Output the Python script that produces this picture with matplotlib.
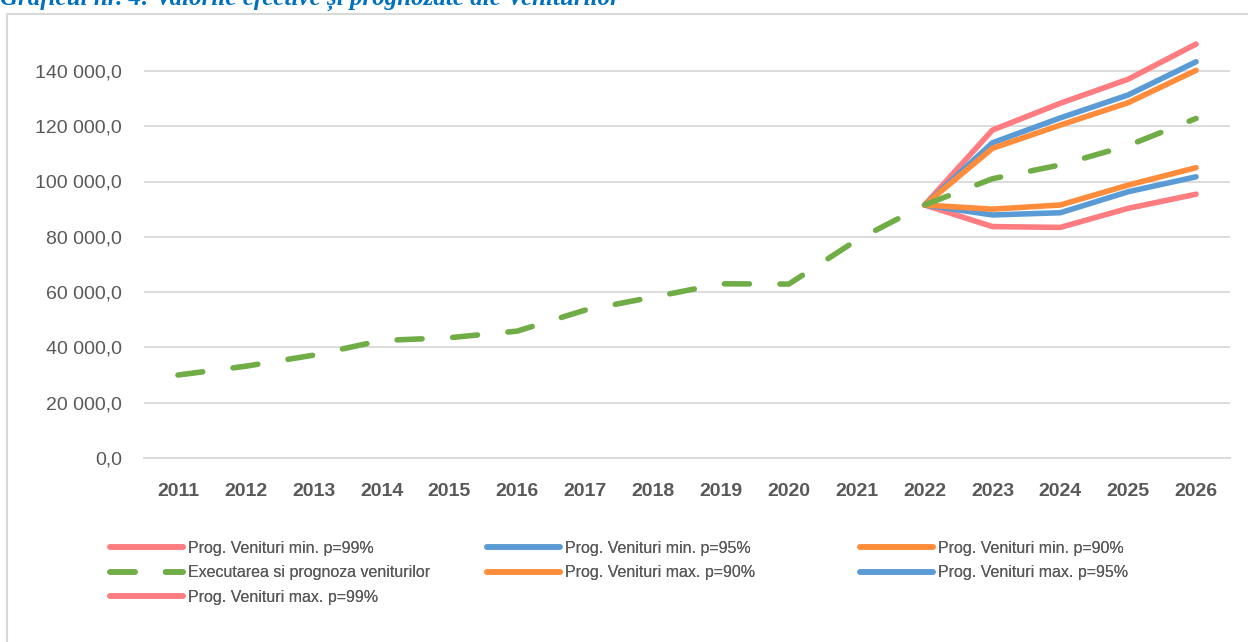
import numpy as np
import matplotlib.pyplot as plt
from matplotlib.patches import Rectangle

# data
years = ['2011', '2012', '2013', '2014', '2015', '2016', '2017', '2018',
         '2019', '2020', '2021', '2022', '2023', '2024', '2025', '2026']
executie = [30000, 33200, 37200, 42500, 43500, 45900, 53500, 58200,
            63000, 62900, 78800, 91500, 101000, 106000, 113000, 122800]

prog_years = ['2022', '2023', '2024', '2025', '2026']
min99 = [91500, 83700, 83400, 90300, 95400]
min95 = [91500, 87900, 88700, 96300, 101700]
min90 = [91500, 90000, 91500, 98700, 105000]
max90 = [91500, 112000, 120400, 128500, 140200]
max95 = [91500, 114000, 123000, 131300, 143300]
max99 = [91500, 118600, 128300, 137000, 149700]

yticks = [0, 20000, 40000, 60000, 80000, 100000, 120000, 140000]

c_pink = '#FF7C80'
c_blue = '#5B9BD5'
c_orange = '#FF8C3A'
c_green = '#70AD47'

plt.rcParams['font.family'] = ['Liberation Sans', 'DejaVu Sans']

fig = plt.figure(figsize=(12.48, 6.42), dpi=100)
ax = fig.add_axes([144/1248, 1 - 458/642, (1230-144)/1248, (458-15.6)/642])

x = np.arange(len(years))
xp = np.array([years.index(y) for y in prog_years])
lw = 4

l_min99, = ax.plot(xp, min99, color=c_pink, lw=lw, solid_capstyle='round', label='Prog. Venituri min. p=99%')
l_min95, = ax.plot(xp, min95, color=c_blue, lw=lw, solid_capstyle='round', label='Prog. Venituri min. p=95%')
l_min90, = ax.plot(xp, min90, color=c_orange, lw=lw, solid_capstyle='round', label='Prog. Venituri min. p=90%')
l_max99, = ax.plot(xp, max99, color=c_pink, lw=lw, solid_capstyle='round', label='Prog. Venituri max. p=99%')
l_max95, = ax.plot(xp, max95, color=c_blue, lw=lw, solid_capstyle='round', label='Prog. Venituri max. p=95%')
l_max90, = ax.plot(xp, max90, color=c_orange, lw=lw, solid_capstyle='round', label='Prog. Venituri max. p=90%')
l_exec, = ax.plot(x, executie, color=c_green, lw=lw, dashes=(4.5, 5.5), dash_capstyle='round',
                  label='Executarea si prognoza veniturilor')

ax.set_xlim(-0.5, len(years) - 0.5)
ax.set_ylim(0, 160000)
ax.set_yticks(yticks)
ax.set_yticklabels([f'{v:,.1f}'.replace(',', ' ').replace('.', ',') for v in yticks])
ax.set_xticks(x)
ax.set_xticklabels(years, fontweight='bold')
ax.tick_params(axis='y', length=0, labelsize=14, labelcolor='#595959', pad=16)
ax.tick_params(axis='x', length=0, labelsize=14, labelcolor='#595959', pad=18)
ax.grid(axis='y', color='#D9D9D9', lw=1.3)
ax.set_axisbelow(True)
for s in ['top', 'right', 'left']:
    ax.spines[s].set_visible(False)
ax.spines['bottom'].set_color('#D9D9D9')
ax.spines['bottom'].set_linewidth(1.3)

# legend, three columns laid out like the original
cols = [[l_min99, l_exec, l_max99], [l_min95, l_max90], [l_min90, l_max95]]
col_x = [110/1248, 487/1248, 860/1248]
for lines, cx in zip(cols, col_x):
    leg = fig.legend(handles=lines, loc='upper left', bbox_to_anchor=(cx, 1 - 541/642),
                     frameon=False, fontsize=11.5, handlelength=4.6, handletextpad=0.3,
                     labelspacing=0.58, borderpad=0, borderaxespad=0)
    for t in leg.get_texts():
        t.set_color('#595959')
    fig.add_artist(leg)

# chart border
fig.add_artist(Rectangle((7/1248, -0.01), 1.02, 1 - 14/642 + 0.01, transform=fig.transFigure,
                         fill=False, edgecolor='#D9D9D9', lw=1.5))

# title, cut off at the top like the source
fig.text(0.0, 1 - 5/642, 'Graficul nr. 4: Valorile efective și prognozate ale Veniturilor',
         color='#0070C0', fontsize=18, fontweight='bold', fontstyle='italic',
         family=['Liberation Serif', 'DejaVu Serif'], va='baseline', ha='left')

fig.savefig('out.png', dpi=100)
